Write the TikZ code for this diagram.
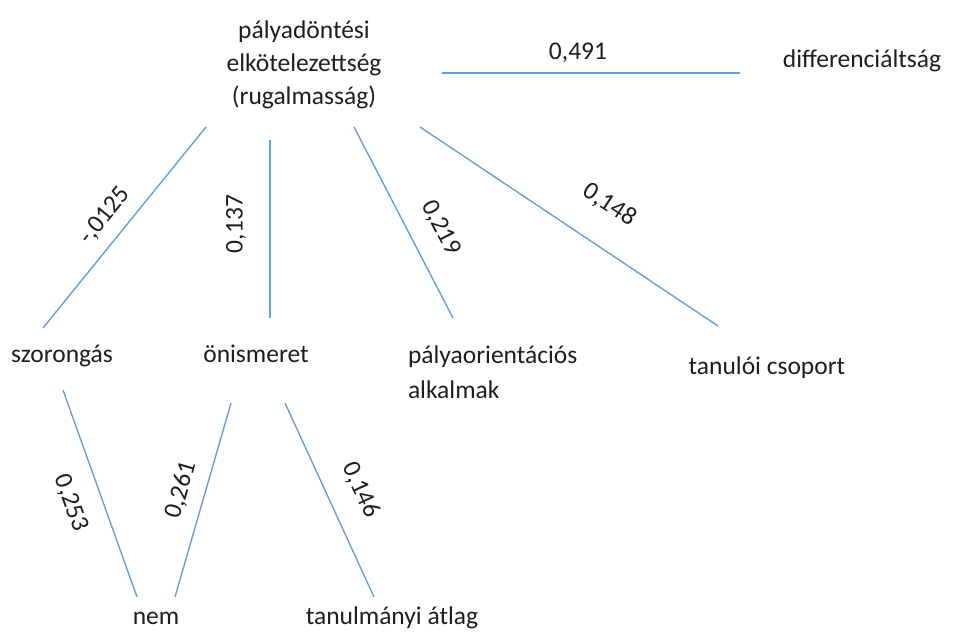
\documentclass[tikz,border=0pt]{standalone}
\usepackage{fontspec}
\setmainfont{Carlito}
\definecolor{linkblue}{RGB}{100,160,220}
\definecolor{inkgray}{RGB}{30,30,30}
\begin{document}
\begin{tikzpicture}[x=1pt,y=-1pt,
  every node/.style={inner sep=0pt, outer sep=0pt, text=inkgray},
  varlabel/.style={font=\fontsize{25.5}{33}\selectfont},
  coef/.style={font=\fontsize{25.5}{31}\selectfont},
  link/.style={draw=linkblue, line width=1.4pt}]
\useasboundingbox (0,0) rectangle (958,638);

% variables
\node[varlabel, align=center] (commit) at (304,65) {pályadöntési\\elkötelezettség\\(rugalmasság)};
\node[varlabel, anchor=base] (diff) at (862,67) {differenciáltság};
\node[varlabel, anchor=base] (anx) at (62,362) {szorongás};
\node[varlabel, anchor=base] (self) at (256,362) {önismeret};
\node[varlabel, anchor=base west, align=left,
      font=\fontsize{25.5}{35}\selectfont] (orient) at (408,398) {pályaorientációs\\alkalmak};
\node[varlabel, anchor=base] (group) at (767,374) {tanulói csoport};
\node[varlabel, anchor=base] (sex) at (156,624) {nem};
\node[varlabel, anchor=base] (grade) at (392,624) {tanulmányi átlag};

% connector end points
\coordinate (commit-diff) at (442,73);
\coordinate (diff-commit) at (740,73);
\coordinate (commit-anx) at (206,127);
\coordinate (anx-commit) at (43,328);
\coordinate (commit-self) at (270,140);
\coordinate (self-commit) at (270,318);
\coordinate (commit-orient) at (354,127);
\coordinate (orient-commit) at (453,318);
\coordinate (commit-group) at (420,127);
\coordinate (group-commit) at (718,326);
\coordinate (anx-sex) at (63,390);
\coordinate (sex-anx) at (137,597);
\coordinate (self-sex) at (231,403);
\coordinate (sex-self) at (175,597);
\coordinate (self-grade) at (285,403);
\coordinate (grade-self) at (374,597);

% connectors
\draw[link] (commit-diff) -- (diff-commit);
\draw[link] (commit-anx) -- (anx-commit);
\draw[link] (commit-self) -- (self-commit);
\draw[link] (commit-orient) -- (orient-commit);
\draw[link] (commit-group) -- (group-commit);
\draw[link] (anx-sex) -- (sex-anx);
\draw[link] (self-sex) -- (sex-self);
\draw[link] (self-grade) -- (grade-self);

% coefficients
\node[coef, anchor=base] (c-diff) at (578,59) {0,491};
\node[coef, rotate=50.7] (c-anx) at (105,216) {-,0125};
\node[coef, rotate=90] (c-self) at (236,224) {0,137};
\node[coef, rotate=-62.8] (c-orient) at (441,228) {0,219};
\node[coef, rotate=-33.4] (c-group) at (610,205) {0,148};
\node[coef, rotate=-70.3] (c-anxsex) at (71,503) {0,253};
\node[coef, rotate=74] (c-selfsex) at (181,490) {0,261};
\node[coef, rotate=-65.4] (c-selfgrade) at (361,490) {0,146};
\end{tikzpicture}
\end{document}
